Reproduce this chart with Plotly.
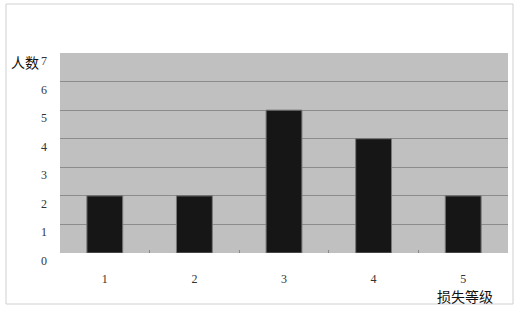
import plotly.graph_objects as go

categories = [1, 2, 3, 4, 5]
counts = [2, 2, 5, 4, 2]
y_ticks = [0, 1, 2, 3, 4, 5, 6, 7]
x_title = "损失等级"
y_title = "人数"

digit_font = dict(family="Liberation Serif, DejaVu Serif, serif", size=12, color="#333")
cjk_font = dict(family="Noto Sans CJK SC, sans-serif", size=14, color="#111")

fig = go.Figure()
fig.add_trace(go.Bar(
    x=categories, y=counts, width=0.4,
    marker=dict(color="#161616", line=dict(color="#777", width=1)),
    showlegend=False,
))
# invisible trace to carry the boundary-tick axis
fig.add_trace(go.Scatter(x=[0.5], y=[0], xaxis="x2", mode="markers",
                         marker=dict(opacity=0), showlegend=False, hoverinfo="skip"))

fig.update_layout(
    width=519, height=312,
    margin=dict(l=60, r=11, t=53, b=59),
    paper_bgcolor="white",
    plot_bgcolor="#c0c0c0",
    xaxis=dict(range=[0.5, 5.5], tickvals=categories, ticktext=[str(c) for c in categories],
               showgrid=False, zeroline=False, ticks="", ticklabelstandoff=17,
               tickfont=digit_font, showline=False),
    xaxis2=dict(range=[0.5, 5.5], overlaying="x", tickvals=[1.5, 2.5, 3.5, 4.5],
                ticks="inside", ticklen=3, tickcolor="#888", showticklabels=False,
                showgrid=False, zeroline=False, side="bottom"),
    yaxis=dict(range=[0, 7], tickvals=y_ticks, showticklabels=False, showgrid=True,
               gridcolor="#8c8c8c", gridwidth=1, zeroline=False, ticks=""),
    bargap=0.6,
)

for v in y_ticks:
    fig.add_annotation(x=0, xref="paper", y=v, yref="y", text=str(v), showarrow=False,
                       xanchor="right", yanchor="middle", xshift=-11, yshift=-8, font=digit_font)

fig.add_annotation(x=0, xref="paper", y=7, yref="y", text=y_title, showarrow=False,
                   xanchor="right", yanchor="middle", xshift=-19, yshift=-9, font=cjk_font)
fig.add_annotation(x=1, xref="paper", y=0, yref="paper", text=x_title, showarrow=False,
                   xanchor="right", yanchor="top", xshift=-13, yshift=-31, font=cjk_font)

# outer frame
fig.add_shape(type="rect", xref="paper", yref="paper",
              x0=(6 - 60) / 448, x1=(513 - 60) / 448,
              y0=(253 - 304) / 200, y1=(253 - 4) / 200,
              line=dict(color="#d0d0d0", width=1), fillcolor="rgba(0,0,0,0)", layer="below")

fig.write_html("out.html")
